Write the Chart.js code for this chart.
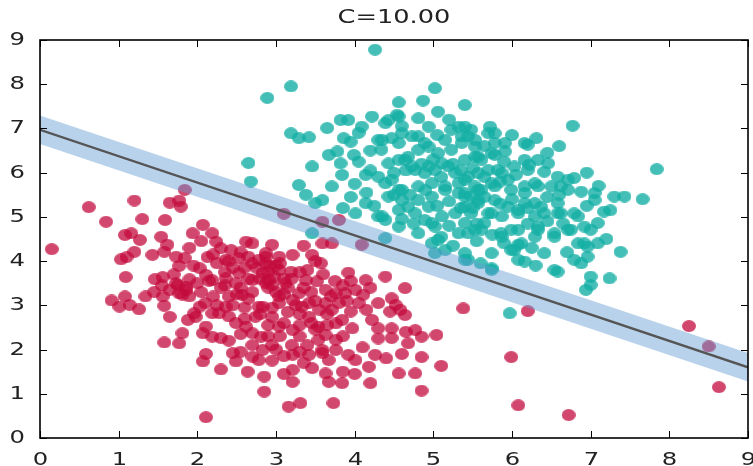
<!DOCTYPE html>
<html>
<head>
<meta charset="utf-8">
<script src="https://cdn.jsdelivr.net/npm/chart.js@4.4.1/dist/chart.umd.min.js"></script>
<style>
  html, body { margin: 0; padding: 0; background: #fff; }
  #wrap { width: 753px; height: 466px; }
</style>
</head>
<body>
<div id="wrap"><canvas id="myChart" width="753" height="466"></canvas></div>
<script>
// class 0 (red) and class 1 (teal) samples
const redPoints = [
  [0.15,4.27],[0.62,5.22],[0.84,4.89],[1.20,5.37],[1.30,4.95],[1.59,4.93],[1.65,5.32],[1.77,5.37],
  [1.79,5.23],[1.84,5.61],[1.08,4.59],[1.16,4.63],[1.27,4.48],[1.20,4.21],[1.03,4.04],[1.10,4.09],
  [1.43,4.14],[1.54,4.55],[1.62,4.37],[1.58,4.21],[1.73,4.10],[1.84,4.07],[1.77,3.89],[1.09,3.64],
  [1.46,3.59],[1.56,3.64],[0.91,3.11],[1.08,3.20],[1.14,3.01],[1.26,2.91],[1.01,2.97],[1.34,3.20],
  [1.56,3.20],[1.58,2.99],[1.65,2.74],[1.75,3.46],[1.86,3.42],[1.81,3.24],[1.90,3.59],[1.94,4.63],
  [2.07,4.82],[2.19,4.63],[2.24,4.44],[2.13,4.09],[2.03,3.84],[2.11,3.69],[2.30,4.29],[2.43,4.25],
  [2.36,4.03],[2.53,4.07],[2.62,4.44],[2.70,4.40],[2.78,4.03],[2.87,4.10],[2.19,3.57],[2.36,3.61],
  [2.49,3.50],[2.57,3.24],[2.03,2.97],[1.96,2.82],[1.88,2.67],[1.81,2.37],[2.07,2.37],[2.19,2.29],
  [2.30,2.26],[1.58,2.16],[1.77,2.14],[2.11,1.90],[2.07,1.73],[2.45,1.92],[2.49,1.73],[2.64,1.50],
  [2.70,1.84],[2.78,1.76],[2.85,1.39],[2.85,1.05],[2.11,0.47],[2.28,2.82],[2.36,2.97],[2.49,2.60],
  [2.62,2.52],[2.74,2.74],[2.78,2.97],[2.70,2.37],[2.70,3.95],[2.83,3.73],[2.87,3.50],[2.70,3.57],
  [2.53,3.73],[1.65,3.35],[1.77,3.27],[1.90,3.20],[1.73,3.50],[1.86,3.35],[1.98,2.74],[2.19,2.82],
  [2.11,2.52],[2.95,4.37],[3.59,4.40],[3.71,4.40],[4.09,4.37],[3.21,4.14],[3.46,4.14],[3.57,3.95],
  [2.87,3.95],[3.04,3.80],[3.19,3.76],[3.92,3.74],[4.14,3.57],[4.39,3.65],[4.64,3.39],[3.40,3.80],
  [3.38,3.57],[3.52,3.54],[3.63,3.35],[3.76,3.27],[3.88,3.27],[4.01,3.35],[4.11,3.24],[4.05,3.05],
  [4.47,3.16],[4.52,3.01],[4.45,2.86],[4.58,2.90],[4.64,2.78],[5.38,2.93],[4.77,2.44],[4.85,2.29],
  [5.04,2.33],[4.68,2.14],[4.47,2.48],[4.47,2.26],[4.30,2.48],[4.22,2.67],[4.85,1.83],[5.10,1.63],
  [4.77,1.46],[4.56,1.46],[4.85,1.07],[4.26,1.88],[4.01,1.76],[4.18,1.61],[4.20,1.24],[3.84,1.24],
  [3.67,1.27],[3.21,1.88],[3.42,1.88],[3.59,1.99],[3.76,1.99],[3.92,1.88],[3.67,1.76],[3.21,1.54],
  [3.21,1.27],[3.46,1.58],[3.63,1.46],[3.16,0.71],[3.31,0.79],[3.73,0.79],[2.83,1.99],[2.81,2.29],
  [2.83,2.97],[2.95,2.74],[3.04,2.52],[3.21,2.44],[3.04,3.05],[3.21,3.12],[3.33,2.97],[3.42,2.74],
  [3.54,2.52],[3.63,2.33],[3.76,2.59],[3.84,2.67],[3.95,2.86],[3.97,2.48],[3.76,2.22],[3.54,2.22],
  [3.59,1.92],[2.87,4.18],[3.04,4.10],[2.91,3.57],[3.12,3.50],[3.04,3.20],[3.29,3.27],[3.42,3.05],
  [3.63,3.05],[3.71,2.90],[3.80,3.05],[2.75,3.85],[2.92,3.90],[2.98,3.65],[2.65,3.60],[2.60,3.85],
  [3.05,3.95],[3.10,3.60],[2.70,3.30],[2.90,3.40],[3.00,3.30],[3.15,3.40],[2.55,3.40],[2.40,3.20],
  [2.30,3.40],[2.20,3.20],[2.05,3.30],[2.15,3.55],[2.45,3.00],[2.60,2.95],[2.80,2.80],[3.25,3.00],
  [3.30,2.80],[3.10,2.60],[3.50,3.10],[3.55,2.90],[3.70,3.20],[3.30,2.30],[3.00,2.00],[3.20,2.10],
  [2.90,2.30],[2.40,2.20],[2.55,2.35],[2.95,1.75],[3.10,1.85],[3.35,1.70],[3.50,2.45],[3.65,2.55],
  [2.25,3.95],[2.45,3.85],[2.55,4.20],[2.35,3.75],[2.65,4.10],[2.90,3.75],[3.00,3.90],[2.80,3.60],
  [2.95,3.45],[3.10,3.25],[3.20,3.60],[3.30,3.75],[3.35,3.40],[3.45,3.30],[3.60,3.70],[3.75,3.55],
  [3.85,3.45],[3.90,3.10],[3.65,2.80],[3.45,2.60],[3.30,2.55],[3.15,2.85],[2.95,2.95],[2.65,3.15],
  [2.50,3.25],[2.35,3.45],[2.25,3.00],[2.10,3.05],[2.00,3.50],[1.95,3.90],[2.20,4.15],[2.40,4.00],
  [1.70,3.70],[1.55,3.45],[1.45,3.30],[2.40,2.75],[2.60,2.70],[2.90,2.55],[3.05,2.30],[3.40,2.10],
  [3.85,2.30],[4.10,2.05],[4.30,2.25],[4.15,2.90],[4.30,3.05],[4.20,3.40],[3.95,3.55],[2.55,1.95],
  [2.70,2.10],[2.95,2.10],[3.30,1.95],[3.85,1.50],[4.00,1.45],[4.40,1.80],[4.60,1.90],[4.65,2.40],
  [2.30,1.55],[3.10,1.45],[1.90,4.30],[2.05,4.45],[3.35,4.35],[3.50,4.00],
  [5.99,1.83],[6.08,0.74],[6.72,0.52],[6.20,2.87],[8.25,2.53],[8.50,2.07],[8.63,1.15],[3.10,5.07],
  [3.59,4.89],[3.80,4.93]
];

const tealPoints = [
  [4.26,8.78],[3.19,7.95],[5.02,7.91],[2.89,7.69],[4.56,7.59],[4.87,7.63],[5.40,7.53],[3.82,7.19],
  [3.92,7.19],[4.22,7.27],[4.09,7.04],[4.43,7.19],[4.54,7.31],[4.81,7.23],[5.06,7.38],[3.19,6.89],
  [3.29,6.78],[3.42,6.80],[3.65,7.01],[3.86,6.78],[3.95,6.70],[4.30,6.74],[4.34,6.52],[4.47,6.78],
  [4.60,6.89],[4.81,6.82],[4.94,7.04],[5.23,6.97],[5.40,7.04],[5.53,6.74],[3.67,6.40],[3.78,6.48],
  [3.99,6.40],[4.05,6.25],[3.82,6.21],[3.46,6.14],[3.84,5.95],[4.14,5.95],[4.43,6.21],[4.56,6.29],
  [4.68,6.36],[4.81,6.52],[4.94,6.59],[5.06,6.44],[5.23,6.52],[4.73,6.14],[4.89,5.99],[5.02,6.06],
  [5.19,6.14],[5.40,6.29],[5.53,6.36],[3.29,5.72],[3.38,5.50],[3.50,5.31],[3.59,5.38],[3.71,5.69],
  [4.30,5.91],[4.47,5.84],[4.56,5.61],[4.43,5.46],[4.60,5.38],[4.68,5.23],[4.81,5.38],[4.98,5.46],
  [5.15,5.69],[5.32,5.76],[5.40,5.46],[5.53,5.69],[4.01,5.08],[4.14,5.31],[4.30,5.01],[4.39,4.93],
  [4.56,4.78],[4.89,4.93],[5.02,4.78],[5.10,4.55],[5.32,4.63],[5.40,4.86],[3.46,4.63],[4.39,4.52],
  [4.98,4.40],[5.15,4.25],[5.40,4.18],[2.68,5.80],[2.65,6.22],[5.97,2.82],[6.77,7.06],[7.84,6.08],
  [5.48,6.97],[5.72,7.04],[5.70,6.89],[5.91,6.67],[6.20,6.63],[6.31,6.78],[5.36,6.67],[5.44,6.82],
  [5.57,6.36],[5.78,6.40],[5.91,6.48],[6.16,6.29],[6.22,6.18],[6.46,6.21],[6.41,6.02],[6.03,6.14],
  [5.82,6.06],[5.57,5.99],[5.40,5.84],[6.58,5.91],[6.71,5.84],[6.79,5.88],[6.62,5.69],[6.50,5.69],
  [6.29,5.76],[6.16,5.69],[5.95,5.84],[5.74,5.76],[5.57,5.61],[5.40,5.54],[6.88,5.57],[7.05,5.54],
  [7.05,5.38],[7.30,5.46],[7.43,5.46],[7.66,5.40],[5.57,5.31],[5.78,5.38],[5.95,5.23],[6.16,5.31],
  [6.37,5.23],[6.58,5.31],[6.79,5.08],[6.58,5.08],[6.29,5.01],[6.08,5.08],[5.74,5.08],[5.48,5.08],
  [7.17,5.12],[7.09,4.86],[6.92,4.78],[6.71,4.71],[6.54,4.63],[6.33,4.78],[6.29,4.55],[6.08,4.71],
  [5.86,4.63],[5.61,4.71],[5.44,4.63],[6.84,4.40],[6.96,4.33],[7.09,4.40],[7.38,4.21],[6.96,4.10],
  [6.79,4.03],[6.54,3.80],[6.41,4.18],[6.16,3.99],[5.99,4.25],[6.08,4.37],[5.74,4.18],[5.44,4.03],
  [5.74,3.84],[7.00,3.46],[7.24,3.61],[6.94,3.35],[4.39,7.12],[4.56,7.27],[5.32,7.04],[5.78,6.89],
  [4.35,6.74],[4.56,6.67],[4.73,6.82],[4.89,6.67],[5.15,6.74],[5.36,6.82],[5.53,6.59],[5.78,6.67],
  [6.16,6.67],[4.64,6.29],[4.77,6.06],[4.94,6.14],[5.11,6.21],[5.28,5.99],[5.44,5.91],[5.61,6.29],
  [5.74,6.44],[5.70,6.06],[5.87,5.99],[6.20,6.06],[6.33,6.29],[4.39,5.76],[4.60,5.61],[4.81,5.69],
  [4.98,5.76],[5.15,5.61],[5.32,5.54],[5.48,5.46],[5.61,5.61],[5.78,5.69],[5.99,5.61],[6.16,5.54],
  [6.33,5.69],[6.71,5.61],[4.35,5.01],[4.56,5.16],[4.77,5.08],[4.94,5.23],[5.11,5.01],[5.28,5.08],
  [5.40,5.23],[5.57,5.38],[5.70,5.08],[5.87,5.01],[6.08,5.16],[6.29,5.31],[6.41,5.08],[6.62,5.08],
  [6.84,5.01],[4.81,4.63],[4.98,4.86],[5.06,4.48],[5.53,4.71],[5.65,4.86],[5.87,4.55],[5.99,4.71],
  [6.12,4.40],[6.33,4.71],[6.54,4.55],[6.75,4.71],[6.92,4.40],[7.00,4.71],[5.02,4.18],[5.40,4.03],
  [6.03,4.25],[6.08,4.03],[6.58,3.76],[6.88,3.95],[7.00,3.65],[5.74,3.80],
  [4.50,6.00],[4.65,6.05],[4.85,6.20],[5.00,6.30],[5.10,5.90],[5.25,6.20],[5.35,6.05],[5.50,6.10],
  [5.65,5.90],[5.85,5.80],[5.90,6.25],[6.05,5.95],[4.50,5.50],[4.70,5.50],[4.90,5.60],[5.05,5.25],
  [5.20,5.35],[5.35,5.20],[5.50,5.20],[5.65,5.45],[5.85,5.30],[6.00,5.40],[6.20,5.20],[6.45,5.45],
  [6.60,5.50],[4.60,4.95],[4.75,4.85],[5.20,4.80],[5.55,4.85],[5.75,4.60],[6.20,4.85],[6.45,4.90],
  [6.65,4.85],[4.20,6.50],[4.20,6.05],[4.00,5.75],[4.15,5.55],[3.95,5.45],[3.85,5.20],[4.25,5.25],
  [4.05,6.90],[4.60,7.05],[5.05,6.85],[5.20,7.20],[5.65,6.60],[6.00,6.85],[6.45,6.45],[6.60,6.60],
  [6.95,6.00],[7.10,5.70],[7.25,5.15],[6.95,5.25],[5.25,4.35],[5.55,4.45],[5.90,4.40],[6.25,4.30],
  [6.70,4.20],[7.20,4.50],[5.60,3.95],[6.30,3.90]
];

// separating line and its margin band
const boundaryX = [0, 9];
const boundaryY = [6.97, 1.60];
const marginUpper = [7.29, 1.92];
const marginLower = [6.65, 1.28];

const xTicks = [0, 1, 2, 3, 4, 5, 6, 7, 8, 9];
const yTicks = [0, 1, 2, 3, 4, 5, 6, 7, 8, 9];
const titleText = "C=10.00";

const FONT = "'DejaVu Sans', sans-serif";
const STRETCH = 1.35;

function toXY(list) {
  return list.map(p => ({ x: p[0], y: p[1] }));
}
function zipLine(xs, ys) {
  return xs.map((x, i) => ({ x: x, y: ys[i] }));
}

// slightly wide elliptical marker
function dot(color) {
  const c = document.createElement("canvas");
  c.width = 14;
  c.height = 12;
  const g = c.getContext("2d");
  g.fillStyle = color;
  g.beginPath();
  g.ellipse(7, 6, 7, 6, 0, 0, Math.PI * 2);
  g.fill();
  return c;
}

function wideText(ctx, text, x, y, align, baseline, size) {
  ctx.save();
  ctx.translate(x, y);
  ctx.scale(STRETCH, 1);
  ctx.font = size + "px " + FONT;
  ctx.fillStyle = "#222";
  ctx.textAlign = align;
  ctx.textBaseline = baseline;
  ctx.fillText(text, 0, 0);
  ctx.restore();
}

// box frame, inward ticks on all sides, labels and title
const frame = {
  id: "frame",
  afterDraw(chart) {
    const ctx = chart.ctx;
    const a = chart.chartArea;
    const xs = chart.scales.x, ys = chart.scales.y;
    ctx.save();
    ctx.strokeStyle = "#000";
    ctx.lineWidth = 1;
    xTicks.forEach(v => {
      const px = Math.round(xs.getPixelForValue(v)) + 0.5;
      ctx.beginPath();
      ctx.moveTo(px, a.bottom); ctx.lineTo(px, a.bottom - 7);
      ctx.moveTo(px, a.top); ctx.lineTo(px, a.top + 7);
      ctx.stroke();
      wideText(ctx, String(v), px, a.bottom + 13, "center", "top", 18);
    });
    yTicks.forEach(v => {
      const py = Math.round(ys.getPixelForValue(v)) + 0.5;
      ctx.beginPath();
      ctx.moveTo(a.left, py); ctx.lineTo(a.left + 7, py);
      ctx.moveTo(a.right, py); ctx.lineTo(a.right - 7, py);
      ctx.stroke();
      wideText(ctx, String(v), a.left - 15, py, "right", "middle", 18);
    });
    ctx.lineWidth = 1.6;
    ctx.strokeRect(a.left, a.top, a.right - a.left, a.bottom - a.top);
    wideText(ctx, titleText, (a.left + a.right) / 2, a.top - 12, "center", "bottom", 19);
    ctx.restore();
  }
};

const data = {
  datasets: [
    {
      label: "line",
      type: "line",
      data: zipLine(boundaryX, boundaryY),
      borderColor: "rgb(85,85,85)",
      borderWidth: 2.4,
      pointRadius: 0,
      fill: false,
      order: 0
    },
    {
      label: "upper",
      type: "line",
      data: zipLine(boundaryX, marginUpper),
      borderWidth: 0,
      borderColor: "rgba(0,0,0,0)",
      pointRadius: 0,
      backgroundColor: "rgba(100,155,210,0.45)",
      fill: "+1",
      order: 1
    },
    {
      label: "lower",
      type: "line",
      data: zipLine(boundaryX, marginLower),
      borderWidth: 0,
      borderColor: "rgba(0,0,0,0)",
      pointRadius: 0,
      fill: false,
      order: 1
    },
    {
      label: "class 1",
      data: toXY(tealPoints),
      pointStyle: dot("rgba(20,175,165,0.8)"),
      order: 2
    },
    {
      label: "class 0",
      data: toXY(redPoints),
      pointStyle: dot("rgba(195,10,60,0.75)"),
      order: 2
    }
  ]
};

const config = {
  type: "scatter",
  data,
  options: {
    responsive: false,
    animation: false,
    layout: { padding: { top: 40, right: 2, left: 0, bottom: 0 } },
    plugins: {
      legend: { display: false },
      tooltip: { enabled: false },
      title: { display: false }
    },
    scales: {
      x: {
        type: "linear",
        min: 0,
        max: 9,
        ticks: { display: false, stepSize: 1 },
        grid: { display: false },
        border: { display: false },
        afterFit(scale) { scale.height = 28; }
      },
      y: {
        type: "linear",
        min: 0,
        max: 9,
        ticks: { display: false, stepSize: 1 },
        grid: { display: false },
        border: { display: false },
        afterFit(scale) { scale.width = 40; }
      }
    }
  },
  plugins: [frame]
};

const myChart = new Chart(document.getElementById("myChart"), config);
</script>
</body>
</html>
